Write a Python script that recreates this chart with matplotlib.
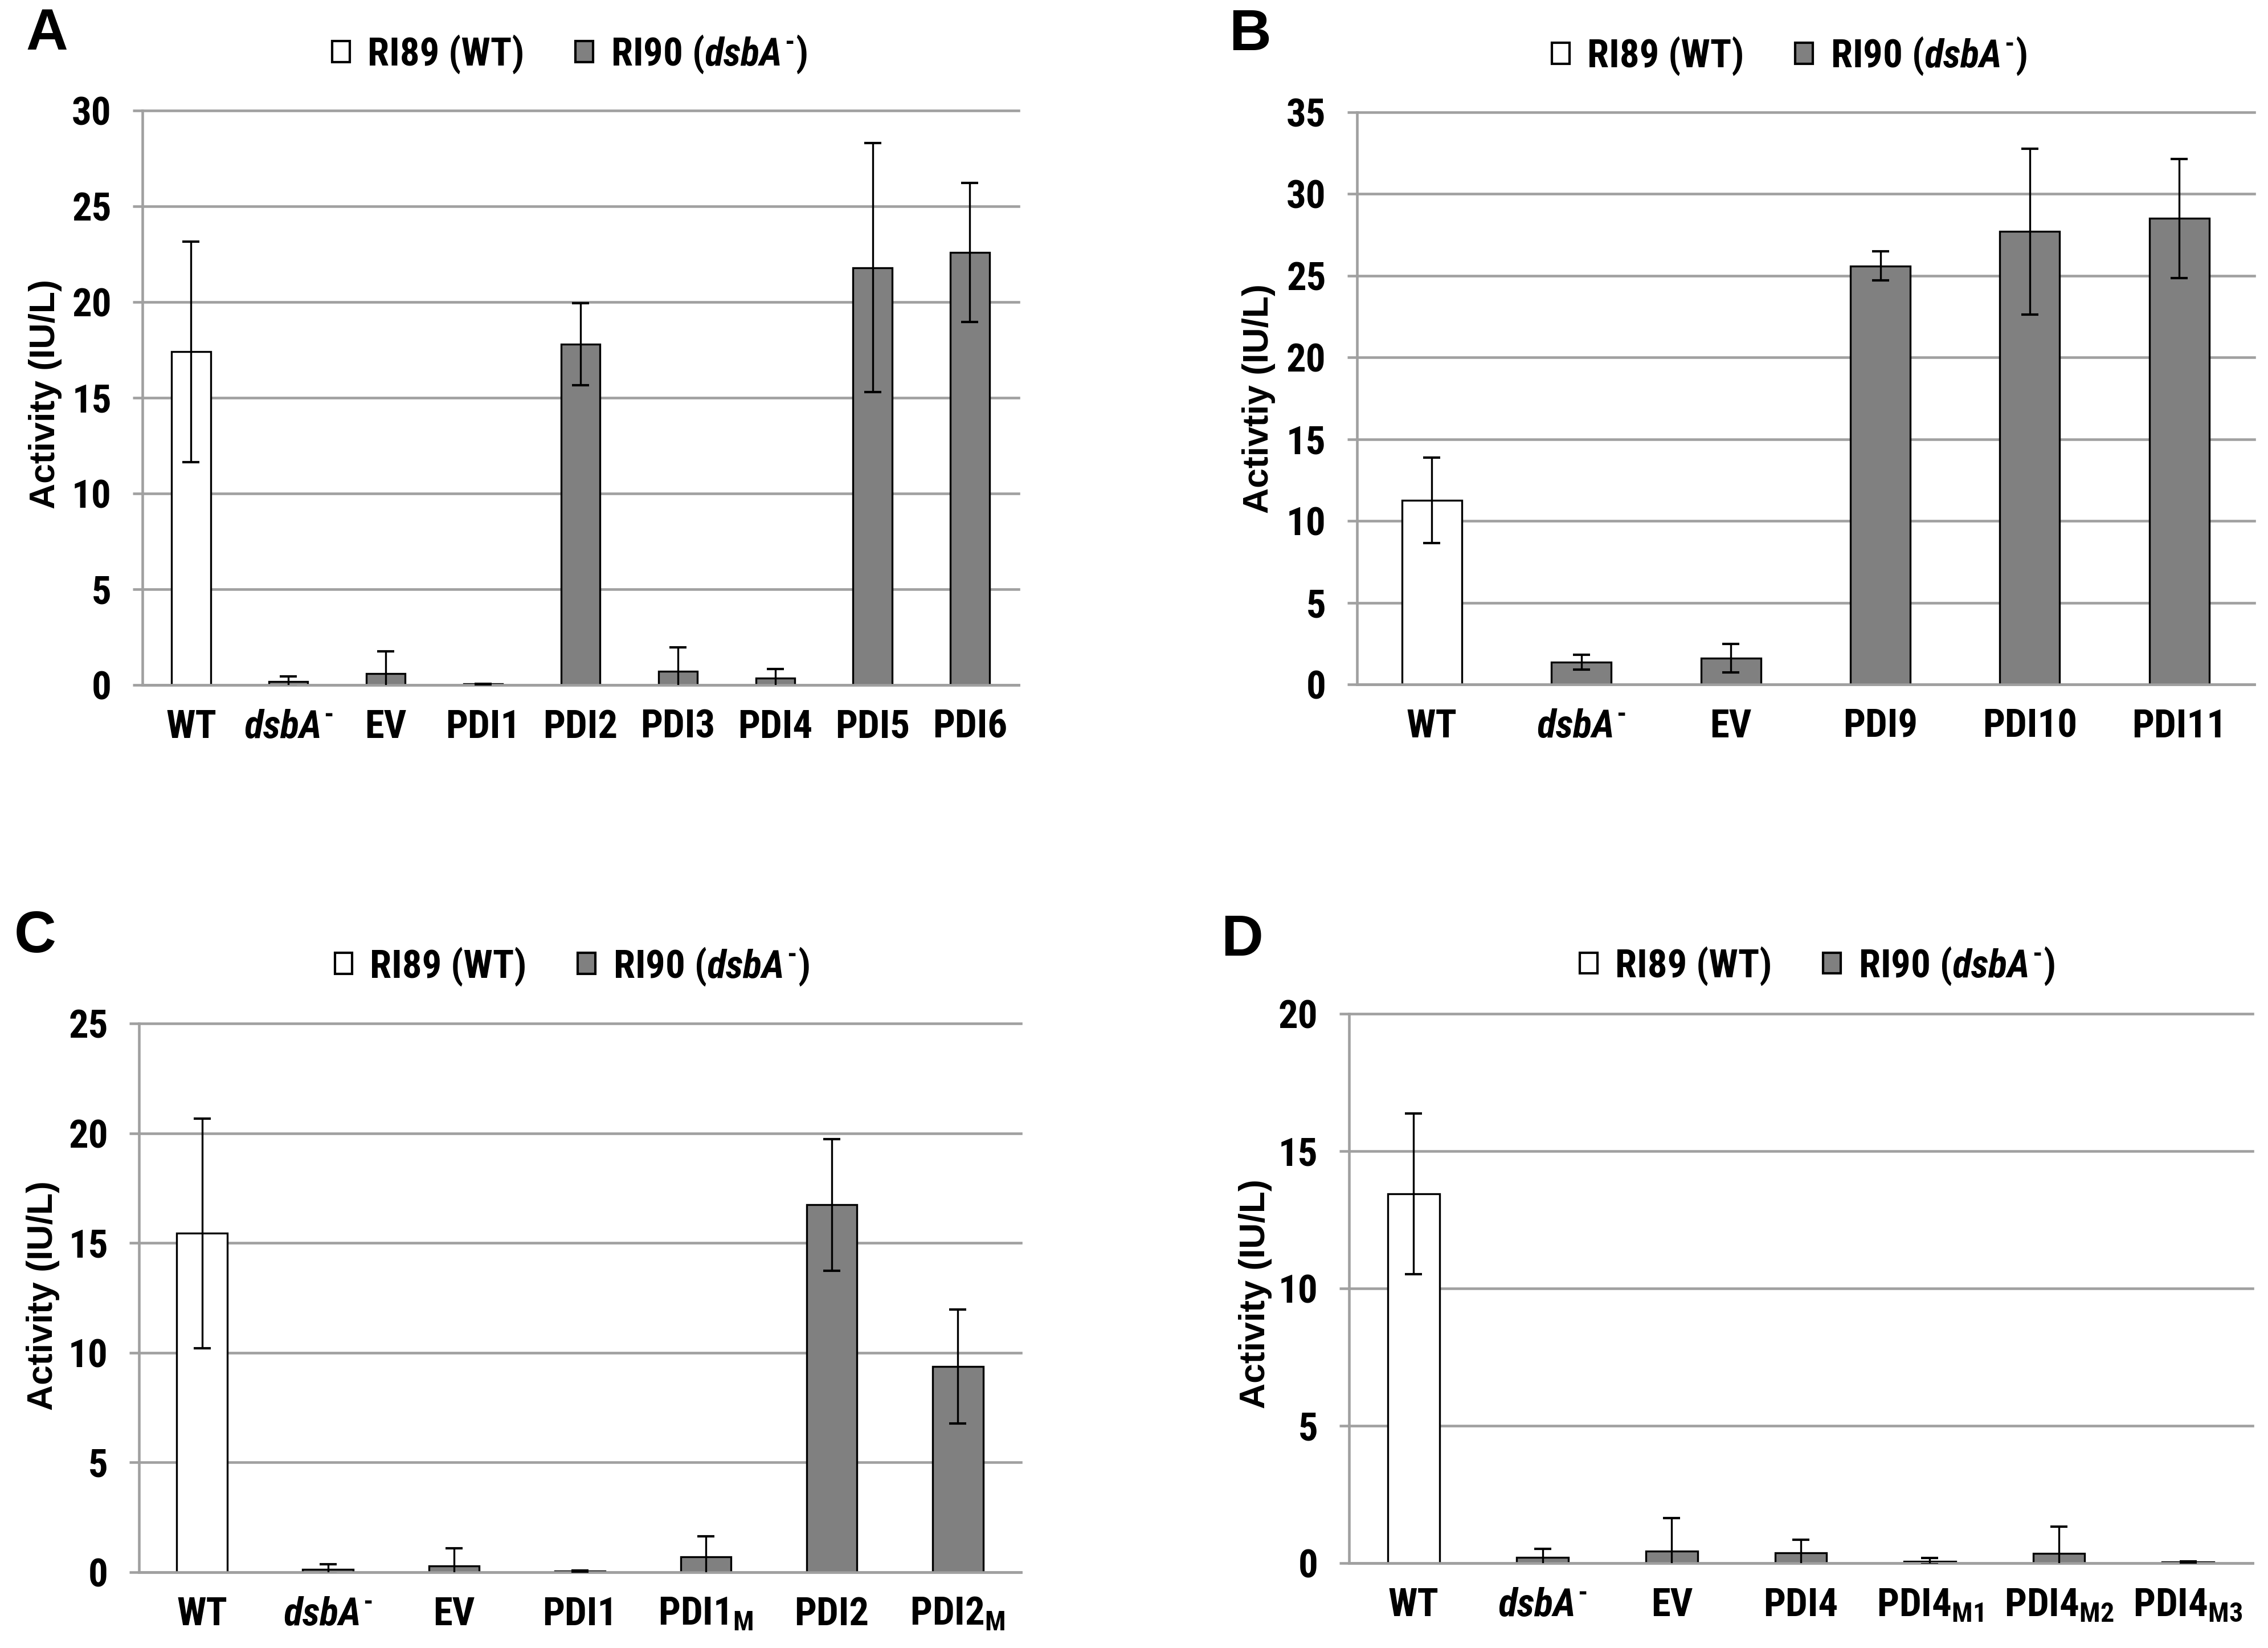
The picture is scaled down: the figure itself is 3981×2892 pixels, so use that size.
import numpy as np
import matplotlib
matplotlib.use('Agg')
import matplotlib.pyplot as plt
from matplotlib import font_manager
from matplotlib.patches import Patch


def has_bold(name):
    for f in font_manager.fontManager.ttflist:
        w = f.weight if isinstance(f.weight, int) else font_manager.weight_dict.get(f.weight, 400)
        if f.name == name and w >= 700 and f.style == 'normal':
            return True
    return False


NARROW = next((n for n in ['Liberation Sans Narrow', 'Arial Narrow', 'Roboto Condensed',
                           'Archivo Narrow', 'PT Sans Narrow', 'IBM Plex Sans Condensed',
                           'Fira Sans Condensed'] if has_bold(n)), 'Liberation Sans')
WIDE = 'Liberation Sans'

plt.rcParams['font.family'] = [NARROW, 'DejaVu Sans']
plt.rcParams['font.weight'] = 'bold'
plt.rcParams['mathtext.fontset'] = 'custom'
plt.rcParams['mathtext.rm'] = NARROW + ':bold'
plt.rcParams['mathtext.bf'] = NARROW + ':bold'
plt.rcParams['mathtext.it'] = NARROW + ':italic:bold'

GRID = '#a0a0a0'
GRAY = '#808080'
DSBA = '$\\mathit{dsbA}^{\\mathrm{\u2010}}$'

# panel A
a_labels = ['WT', DSBA, 'EV', 'PDI1', 'PDI2', 'PDI3', 'PDI4', 'PDI5', 'PDI6']
a_values = [17.4, 0.18, 0.58, 0.05, 17.8, 0.72, 0.35, 21.8, 22.6]
a_errors = [5.75, 0.27, 1.17, 0.02, 2.14, 1.25, 0.48, 6.5, 3.63]

# panel B
b_labels = ['WT', DSBA, 'EV', 'PDI9', 'PDI10', 'PDI11']
b_values = [11.26, 1.37, 1.62, 25.6, 27.7, 28.5]
b_errors = [2.6, 0.45, 0.87, 0.9, 5.07, 3.65]

# panel C
c_labels = ['WT', DSBA, 'EV', 'PDI1', r'PDI1$_{\mathrm{M}}$', 'PDI2', r'PDI2$_{\mathrm{M}}$']
c_values = [15.44, 0.14, 0.28, 0.05, 0.69, 16.74, 9.37]
c_errors = [5.23, 0.23, 0.8, 0.04, 0.95, 3.0, 2.6]

# panel D
d_labels = ['WT', DSBA, 'EV', 'PDI4', r'PDI4$_{\mathrm{M1}}$', r'PDI4$_{\mathrm{M2}}$', r'PDI4$_{\mathrm{M3}}$']
d_values = [13.44, 0.2, 0.44, 0.37, 0.07, 0.35, 0.04]
d_errors = [2.93, 0.31, 1.21, 0.48, 0.11, 0.97, 0.02]

legend_labels = ['RI89 (WT)', 'RI90 (' + DSBA + ')']

fig = plt.figure(figsize=(3981 / 300, 2892 / 300), dpi=300)


def draw_panel(rect, labels, values, errors, ymax, ylabel, letter,
               letter_xy, ylabel_xy, legend_xy):
    ax = fig.add_axes(rect)
    x = np.arange(len(labels))
    colors = ['white'] + [GRAY] * (len(labels) - 1)
    ax.bar(x, values, width=0.4, color=colors, edgecolor='black',
           linewidth=0.8, zorder=2)
    ax.errorbar(x, values, yerr=errors, fmt='none', ecolor='black',
                elinewidth=0.8, capsize=3.6, capthick=1.0, zorder=3)
    ax.set_xlim(-0.5, len(labels) - 0.5)
    ax.set_ylim(0, ymax)
    ax.set_yticks(np.arange(0, ymax + 1, 5))
    ax.yaxis.grid(True, color=GRID, linewidth=1.1)
    ax.set_axisbelow(True)
    for line in ax.get_ygridlines():
        line.set_clip_on(False)
    for side in ['top', 'right']:
        ax.spines[side].set_visible(False)
    for side in ['left', 'bottom']:
        ax.spines[side].set_color(GRID)
        ax.spines[side].set_linewidth(1.1)
    ax.set_xticks(x, labels)
    ax.tick_params(axis='x', length=0, pad=10, labelsize=16.5)
    ax.tick_params(axis='y', length=4, width=1.1, color=GRID, pad=9, labelsize=16.5)

    fig.text(letter_xy[0], letter_xy[1], letter, ha='center', va='baseline',
             fontsize=24.5, family=WIDE, weight='bold')
    fig.text(ylabel_xy[0], ylabel_xy[1], ylabel, rotation=90, ha='center',
             va='center', fontsize=15, family=WIDE, weight='bold')

    handles = [Patch(facecolor='white', edgecolor='black', linewidth=1.0, label=legend_labels[0]),
               Patch(facecolor=GRAY, edgecolor='black', linewidth=1.0, label=legend_labels[1])]
    fig.legend(handles=handles, loc='center', bbox_to_anchor=legend_xy, ncol=2,
               frameon=False, fontsize=16.5, handlelength=0.45, handleheight=0.45,
               handletextpad=0.45, columnspacing=1.3, borderpad=0, borderaxespad=0)
    return ax


draw_panel([0.0628, 0.5844, 0.3863, 0.3485], a_labels, a_values, a_errors, 30,
           'Activity (IU/L)', 'A', (0.0206, 0.9699), (0.020, 0.7607), (0.2512, 0.967))
draw_panel([0.5983, 0.5847, 0.3956, 0.3472], b_labels, b_values, b_errors, 35,
           'Activtiy (IU/L)', 'B', (0.5511, 0.9696), (0.555, 0.758), (0.789, 0.966))
draw_panel([0.0613, 0.0460, 0.3888, 0.3330], c_labels, c_values, c_errors, 25,
           'Activity (IU/L)', 'C', (0.0156, 0.4222), (0.019, 0.214), (0.2523, 0.4136))
draw_panel([0.5948, 0.0515, 0.3984, 0.3334], d_labels, d_values, d_errors, 20,
           'Activity (IU/L)', 'D', (0.5476, 0.4201), (0.5536, 0.215), (0.8013, 0.4139))

fig.savefig('out.png', dpi=300, facecolor='white')
